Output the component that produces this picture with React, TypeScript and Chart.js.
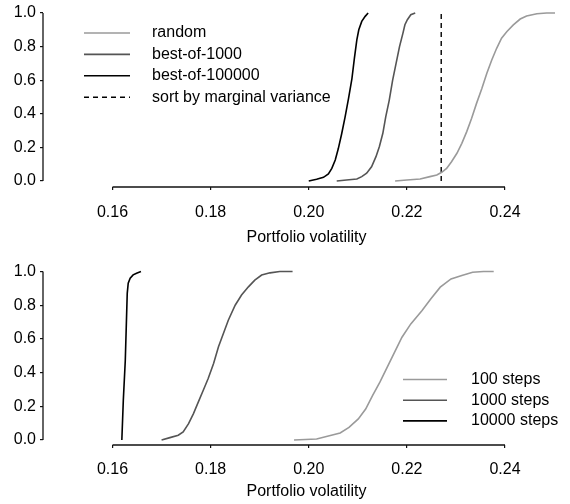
import React, { useEffect, useRef } from 'react';
import { Chart, registerables } from 'chart.js';

Chart.register(...registerables);

// ---------- data ----------
const xTicks = [0.16, 0.18, 0.2, 0.22, 0.24];
const yTicks = [0, 0.2, 0.4, 0.6, 0.8, 1.0];

// top panel
const randomX = [0.2176, 0.22, 0.2227, 0.2247, 0.2261, 0.2271, 0.2281, 0.2291, 0.2302, 0.2312, 0.2322, 0.2332, 0.2342, 0.2353, 0.2363, 0.2373, 0.2383, 0.2393, 0.2404, 0.2417, 0.2431, 0.2444, 0.2465, 0.2485, 0.2502];
const randomY = [0.0, 0.006, 0.012, 0.026, 0.036, 0.052, 0.075, 0.115, 0.165, 0.224, 0.294, 0.373, 0.462, 0.552, 0.641, 0.72, 0.79, 0.85, 0.89, 0.929, 0.964, 0.982, 0.996, 1.0, 1.0];

const best1000X = [0.2057, 0.2077, 0.2098, 0.2108, 0.2118, 0.2128, 0.2137, 0.2144, 0.2151, 0.2157, 0.2164, 0.2171, 0.2178, 0.2185, 0.2192, 0.2196, 0.2201, 0.2208, 0.2217];
const best1000Y = [0.0, 0.006, 0.012, 0.026, 0.046, 0.085, 0.145, 0.205, 0.284, 0.383, 0.48, 0.6, 0.7, 0.8, 0.88, 0.93, 0.96, 0.99, 1.0];

const best100000X = [0.2, 0.2016, 0.203, 0.204, 0.2047, 0.2054, 0.206, 0.2067, 0.2074, 0.2081, 0.2088, 0.2093, 0.2098, 0.2102, 0.2108, 0.2115, 0.2121];
const best100000Y = [0.0, 0.01, 0.022, 0.042, 0.075, 0.125, 0.19, 0.28, 0.38, 0.49, 0.61, 0.73, 0.84, 0.9, 0.95, 0.98, 1.0];

const marginalVarianceX = 0.227;

// bottom panel
const steps100X = [0.197, 0.2016, 0.2038, 0.2064, 0.2082, 0.2101, 0.2116, 0.213, 0.2145, 0.216, 0.2175, 0.219, 0.2208, 0.2231, 0.2249, 0.2268, 0.229, 0.2312, 0.2334, 0.2356, 0.2377];
const steps100Y = [0.0, 0.006, 0.022, 0.042, 0.075, 0.125, 0.184, 0.263, 0.343, 0.432, 0.521, 0.61, 0.689, 0.768, 0.838, 0.907, 0.956, 0.976, 0.996, 1.0, 1.0];

const steps1000X = [0.17, 0.1717, 0.1734, 0.1744, 0.1755, 0.1765, 0.1775, 0.1785, 0.1795, 0.1806, 0.1816, 0.1826, 0.1836, 0.185, 0.1863, 0.1877, 0.189, 0.1904, 0.1921, 0.1941, 0.1967];
const steps1000Y = [0.0, 0.014, 0.028, 0.048, 0.097, 0.157, 0.226, 0.295, 0.365, 0.454, 0.553, 0.632, 0.711, 0.8, 0.86, 0.909, 0.949, 0.979, 0.992, 1.0, 1.0];

const steps10000X = [0.1619, 0.1622, 0.1626, 0.1628, 0.163, 0.1632, 0.1636, 0.1642, 0.1649, 0.1658];
const steps10000Y = [0.0, 0.235, 0.47, 0.67, 0.87, 0.93, 0.96, 0.98, 0.99, 1.0];

const topLabels = ['random', 'best-of-1000', 'best-of-100000', 'sort by marginal variance'];
const bottomLabels = ['100 steps', '1000 steps', '10000 steps'];
const xTitle = 'Portfolio volatility';

const LIGHT = '#9a9a9a';
const DARK = '#555555';
const BLACK = '#000000';
const FONT = "'Liberation Sans', Arial, Helvetica, sans-serif";
const FS = 16;

const pts = (xs: number[], ys: number[]) => xs.map((x, i) => ({ x, y: ys[i] }));

const customPlugin = {
  id: 'rAxesLegend',
  afterDraw(chart: any, _args: any, opts: any) {
    const { ctx, chartArea, scales } = chart;
    const x = scales.x;
    const y = scales.y;
    ctx.save();
    ctx.strokeStyle = '#111';
    ctx.lineWidth = 1.3;
    ctx.setLineDash([]);
    ctx.beginPath();
    ctx.moveTo(x.getPixelForValue(xTicks[0]), chartArea.bottom);
    ctx.lineTo(x.getPixelForValue(xTicks[xTicks.length - 1]), chartArea.bottom);
    ctx.stroke();
    ctx.beginPath();
    ctx.moveTo(chartArea.left, y.getPixelForValue(yTicks[0]));
    ctx.lineTo(chartArea.left, y.getPixelForValue(yTicks[yTicks.length - 1]));
    ctx.stroke();

    const L = opts.legend;
    if (L) {
      ctx.font = `${FS}px ${FONT}`;
      ctx.textBaseline = 'middle';
      ctx.textAlign = 'left';
      chart.data.datasets.forEach((ds: any, i: number) => {
        const yy = L.top + i * L.rowGap;
        ctx.strokeStyle = ds.borderColor;
        ctx.lineWidth = ds.borderWidth;
        ctx.setLineDash(ds.borderDash || []);
        ctx.beginPath();
        ctx.moveTo(L.lineX0, yy);
        ctx.lineTo(L.lineX1, yy);
        ctx.stroke();
        ctx.setLineDash([]);
        ctx.fillStyle = '#000';
        ctx.fillText(ds.label, L.textX, yy);
      });
    }
    ctx.restore();
  },
};

function makeOptions(p: {
  yMin: number;
  yMax: number;
  xHeight: number;
  tickPad: number;
  titlePad: number;
  legend: any;
}) {
  return {
    responsive: false,
    animation: false as const,
    events: [],
    layout: { padding: 0 },
    plugins: {
      legend: { display: false },
      tooltip: { enabled: false },
      title: { display: false },
      rAxesLegend: { legend: p.legend },
    },
    elements: { point: { radius: 0 }, line: { tension: 0 } },
    scales: {
      x: {
        type: 'linear' as const,
        min: 0.14583,
        max: 0.25325,
        border: { display: false },
        grid: { drawOnChartArea: false, drawTicks: true, tickLength: 3, color: '#111', lineWidth: 1.2 },
        ticks: {
          autoSkip: false,
          maxRotation: 0,
          padding: p.tickPad,
          color: '#000',
          font: { family: FONT, size: FS },
          callback: (v: any) => Number(v).toFixed(2),
        },
        title: {
          display: true,
          text: xTitle,
          color: '#000',
          font: { family: FONT, size: FS },
          padding: { top: 0, bottom: p.titlePad },
        },
        afterBuildTicks: (s: any) => {
          s.ticks = xTicks.map((v) => ({ value: v }));
        },
        afterFit: (s: any) => {
          s.height = p.xHeight;
          s.paddingLeft = 0;
          s.paddingRight = 0;
        },
      },
      y: {
        type: 'linear' as const,
        min: p.yMin,
        max: p.yMax,
        border: { display: false },
        grid: { drawOnChartArea: false, drawTicks: true, tickLength: 3, color: '#111', lineWidth: 1.2 },
        ticks: {
          padding: 4,
          color: '#000',
          font: { family: FONT, size: FS },
          callback: (v: any) => Number(v).toFixed(1),
        },
        afterBuildTicks: (s: any) => {
          s.ticks = yTicks.map((v) => ({ value: v }));
        },
        afterFit: (s: any) => {
          s.width = 43;
          s.paddingTop = 0;
          s.paddingBottom = 0;
        },
      },
    },
  };
}

function Panel({ datasets, opts }: { datasets: any[]; opts: any }) {
  const ref = useRef<HTMLCanvasElement | null>(null);
  useEffect(() => {
    if (!ref.current) return;
    const chart = new Chart(ref.current, {
      type: 'line',
      data: { datasets },
      options: opts,
      plugins: [customPlugin],
    } as any);
    return () => chart.destroy();
  }, []);
  return <canvas ref={ref} width={570} height={252} style={{ display: 'block', width: 570, height: 252 }} />;
}

export default function App() {
  const topDatasets = [
    { label: topLabels[0], data: pts(randomX, randomY), borderColor: LIGHT, borderWidth: 1.6, fill: false },
    { label: topLabels[1], data: pts(best1000X, best1000Y), borderColor: DARK, borderWidth: 1.6, fill: false },
    { label: topLabels[2], data: pts(best100000X, best100000Y), borderColor: BLACK, borderWidth: 1.6, fill: false },
    {
      label: topLabels[3],
      data: pts([marginalVarianceX, marginalVarianceX], [0, 1]),
      borderColor: BLACK,
      borderWidth: 1.4,
      borderDash: [5, 4],
      fill: false,
    },
  ];
  const bottomDatasets = [
    { label: bottomLabels[0], data: pts(steps100X, steps100Y), borderColor: LIGHT, borderWidth: 1.6, fill: false },
    { label: bottomLabels[1], data: pts(steps1000X, steps1000Y), borderColor: DARK, borderWidth: 1.6, fill: false },
    { label: bottomLabels[2], data: pts(steps10000X, steps10000Y), borderColor: BLACK, borderWidth: 1.6, fill: false },
  ];

  const topOpts = makeOptions({
    yMin: -6 / 168,
    yMax: 1 + 13 / 168,
    xHeight: 252 - 187,
    tickPad: 13.4,
    titlePad: 4.4,
    legend: { top: 33, rowGap: 21.4, lineX0: 84, lineX1: 130, textX: 152 },
  });
  const bottomOpts = makeOptions({
    yMin: -5 / 168.5,
    yMax: 1 + 19.5 / 168.5,
    xHeight: 252 - 193,
    tickPad: 12.4,
    titlePad: 2.4,
    legend: { top: 127.5, rowGap: 20.7, lineX0: 403, lineX1: 447, textX: 471 },
  });

  return (
    <div style={{ position: 'absolute', left: 0, top: 0, width: 570, height: 504, background: '#fff' }}>
      <Panel datasets={topDatasets} opts={topOpts} />
      <Panel datasets={bottomDatasets} opts={bottomOpts} />
    </div>
  );
}
